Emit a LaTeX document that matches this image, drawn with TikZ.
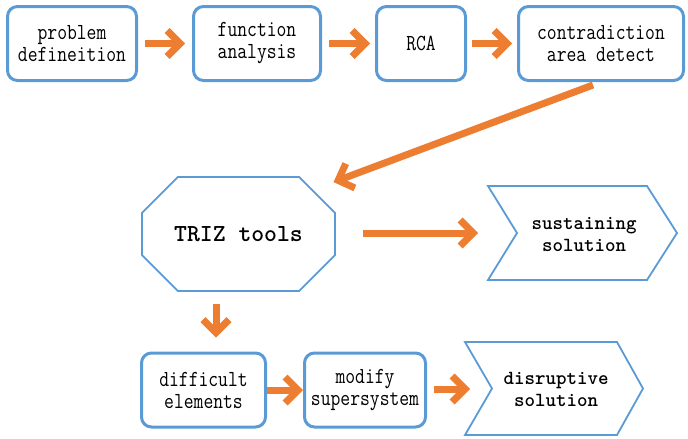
\documentclass[tikz,border=0pt]{standalone}
\usepackage{fontspec}
\usetikzlibrary{arrows.meta,shapes.misc,calc}
\newfontfamily\steptt{Latin Modern Mono}[FakeStretch=0.83]
\definecolor{boxblue}{RGB}{91,155,213}
\definecolor{arrorange}{RGB}{237,125,49}
\begin{document}
\begin{tikzpicture}[x=1pt,y=-1pt,
  procbox/.style={draw=boxblue, line width=3pt, rounded corners=10pt,
    minimum height=74pt, inner sep=0pt, align=center,
    font=\steptt\fontsize{23}{22}\selectfont},
  chevshape/.style={draw=boxblue, line width=1.8pt, line join=miter},
  soltext/.style={inner sep=0pt, align=center,
    font=\ttfamily\bfseries\fontsize{20}{22}\selectfont},
  flowarr/.style={draw=arrorange, line width=7pt,
    -{Straight Barb[length=13pt,width=26pt,sharp]}}]
\useasboundingbox (0,0) rectangle (688,439);

% top row of process steps
\node[procbox, minimum width=129pt] (pd)  at (72,43.5)  {problem\\defineition};
\node[procbox, minimum width=127pt] (fa)  at (257,43.5) {function\\analysis};
\node[procbox, minimum width=89pt]  (rca) at (421,43.5) {RCA};
\node[procbox, minimum width=165pt] (cad) at (601,43.5) {contradiction\\area detect};

% TRIZ tools octagon
\node[chamfered rectangle, draw=boxblue, line width=1.8pt,
      minimum width=193pt, minimum height=114pt,
      chamfered rectangle xsep=23pt, chamfered rectangle ysep=25pt,
      font=\ttfamily\bfseries\fontsize{24.5}{28}\selectfont]
      (triz) at (238.5,234) {TRIZ tools};

% bottom row
\node[procbox, minimum width=124pt] (diff) at (203.5,390) {difficult\\elements};
\node[procbox, minimum width=121pt] (mod)  at (365,390)   {modify\\supersystem};

% solution chevrons
\draw[chevshape] (488,186) -- (647,186) -- (677,233) -- (647,280) -- (488,280) -- (517,233) -- cycle;
\node[soltext] (sus) at (584,234) {sustaining\\solution};
\draw[chevshape] (465,342) -- (617,342) -- (643,388.5) -- (617,435) -- (465,435) -- (492,388.5) -- cycle;
\node[soltext] (dis) at (556,389) {disruptive\\solution};
\coordinate (susin) at (478,233);
\coordinate (disin) at (470,389);

% connectors
\draw[flowarr, shorten <=7pt, shorten >=7pt] (pd) -- (fa);
\draw[flowarr, shorten <=7pt, shorten >=5pt] (fa) -- (rca);
\draw[flowarr, shorten <=5pt, shorten >=5pt] (rca) -- (cad);
\draw[flowarr] ($(cad.south)+(-8,3)$) -- ($(triz.north)+(95,6)$);
\draw[flowarr, shorten <=27pt] (triz.east |- susin) -- (susin);
\draw[flowarr] ($(triz.south)+(-22.5,12)$) -- ($(diff.north)+(12.5,-14)$);
\draw[flowarr] (diff) -- (mod);
\draw[flowarr, shorten <=7pt] (mod.east |- disin) -- (disin);
\end{tikzpicture}
\end{document}
